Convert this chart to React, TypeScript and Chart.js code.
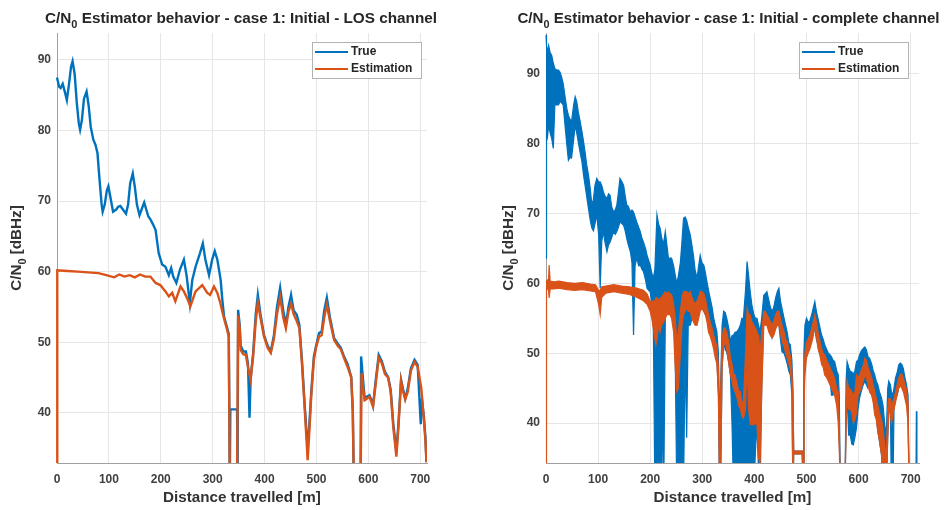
import React, { useEffect, useRef } from "react";
import { Chart, registerables } from "chart.js";

Chart.register(...registerables);

const BLUE = "#0072BD";
const ORANGE = "#D95319";
const FONT = '"Liberation Sans", Arial, Helvetica, sans-serif';

const xTicks = [0, 100, 200, 300, 400, 500, 600, 700];
const yTicks = [40, 50, 60, 70, 80, 90];

const titleLeft: [string, boolean][] = [["C/N", false], ["0", true], [" Estimator behavior - case 1: Initial - LOS channel", false]];
const titleRight: [string, boolean][] = [["C/N", false], ["0", true], [" Estimator behavior - case 1: Initial - complete channel", false]];
const yLabel: [string, boolean][] = [["C/N", false], ["0", true], [" [dBHz]", false]];
const xLabel = "Distance travelled [m]";
const legendLabels = ["True", "Estimation"];

// Left panel (LOS channel): [distance, value]
const trueLOS: [number, number][] = [
  [0, 87.5], [4, 86.2], [7, 86.0], [11, 86.6], [15, 85.5], [19, 84.3], [23, 86.5], [27, 89.0], [30, 89.8], [34, 88],
  [38, 84], [42, 81], [44.5, 80.1], [48, 81.5], [52, 84.5], [57, 85.5], [61, 83.5], [65, 80.5], [70, 78.7], [74, 78],
  [78, 76.8], [82, 73], [86, 69.5], [88, 68.5], [92, 69.5], [96, 71.5], [99, 72.1], [103, 70.5], [108, 68.5], [114, 68.8],
  [118, 69.2], [122, 69.3], [127, 68.8], [133, 68.2], [137, 69.5], [141, 72.5], [146, 73.9], [150, 72], [154, 69.5], [159, 68.0],
  [163, 68.8], [168, 69.8], [172, 68.8], [176, 67.8], [180, 67.4], [185, 66.7], [190, 65.9], [196, 62.6], [202.6, 61], [209, 60.7],
  [215.5, 59.5], [220, 60.5], [224, 59.3], [230, 58.4], [237, 60.3], [244.5, 61.7], [250, 59.3], [256, 55.5], [260.6, 58.8], [267, 60.7],
  [275.4, 62.6], [281, 64.0], [286, 61.7], [293, 59.5], [299, 61.7], [304, 62.9], [309, 61.7], [315.4, 58.8], [318.6, 56], [322, 53.6],
  [327, 52.3], [331, 51.2], [333, 30], [334, 40.5], [347, 40.5], [348, 30], [349, 54.6], [352, 52.5], [354, 49.5], [359, 48.7],
  [364, 48.7], [368, 47], [371, 39.3], [373, 44.7], [378, 48.5], [383, 54], [387, 56.7], [392, 54], [399, 51], [406, 49.5],
  [412, 48.7], [418, 51], [424, 55], [430, 57.7], [436, 54.5], [441, 52.5], [446, 55], [451, 56.7], [456, 54.5], [462, 53.9],
  [467, 52.5], [472, 47.5], [477, 41.5], [481, 37], [483, 35.2], [486, 38], [490, 43], [495, 48], [499, 49.4], [505, 51.3],
  [510, 51.5], [515, 54.5], [520, 56.3], [526, 53.5], [534, 50.6], [541, 49.8], [547, 49.2], [553, 48], [560, 46.9], [567, 45.1],
  [570, 40.5], [572, 30], [585, 30], [586, 48], [590, 44.5], [593, 42], [597, 42.3], [602, 42.5], [606, 41.8], [609, 41],
  [614, 44.5], [620, 48.2], [626, 47.3], [632, 45.8], [638, 45.1], [643, 43.3], [648, 38.5], [654, 34.5], [658, 38.5], [663, 44.7],
  [667, 43.3], [671, 42], [676, 43.5], [682, 46.3], [689, 47.5], [695, 46.8], [701, 38.4], [703, 42], [707, 39.5], [710, 36.5],
  [712, 33],
];

const estLOS: [number, number][] = [
  [0, 30], [0.5, 60.2], [20, 60.1], [40, 60], [60, 59.9], [80, 59.8], [95, 59.5], [110, 59.2], [120, 59.6], [130, 59.3],
  [140, 59.5], [150, 59.2], [160, 59.6], [170, 59.3], [180, 59.3], [190, 58.4], [199, 58.1], [209, 57.2], [215.5, 56.5], [222, 57],
  [228, 55.8], [238, 57.9], [244.5, 57.2], [251, 56.2], [257, 55.1], [267, 57.2], [280, 58.1], [289.6, 57], [295, 56.7], [302.5, 57.9],
  [309, 57], [315, 55.5], [318, 54.5], [322, 53.3], [327, 52], [331, 50.8], [333, 30], [347, 30], [349, 53.8], [352, 52],
  [354, 48.9], [359, 48.3], [364, 48.2], [368, 46.5], [373, 44.7], [378, 48], [383, 53], [387, 55.6], [392, 53.5], [399, 50.8],
  [406, 49.2], [412, 48.5], [418, 50.5], [424, 54], [430, 56.4], [436, 53.5], [441, 52], [446, 54.3], [451, 55.5], [456, 54],
  [462, 53], [467, 52], [472, 47], [477, 41], [481, 36], [483, 33.3], [486, 37], [490, 42.5], [495, 47.5], [499, 49.2],
  [505, 50.8], [510, 51], [515, 53.5], [520, 55.3], [526, 53], [534, 50.3], [541, 49.5], [547, 49], [553, 47.8], [560, 46.5],
  [567, 45], [570, 40], [572, 30], [585, 30], [587, 45.6], [590, 43.5], [593, 41.8], [597, 42], [602, 42.3], [606, 41.5],
  [609, 40.9], [614, 44], [620, 47.8], [626, 47], [632, 45.5], [638, 45], [643, 43], [648, 38], [654, 33.8], [658, 38],
  [663, 44.5], [667, 43], [671, 41.9], [676, 43], [682, 46], [689, 47.2], [695, 46.5], [702, 43.5], [707, 39], [710, 36],
  [712, 33],
];

// Right panel (complete channel): noisy bands [distance, upper, lower]
const trueBand: [number, number, number][] = [
  [0, 95.5, 63.6], [1, 94, 82], [3, 93, 81], [5, 94, 82.6], [8, 93, 81.5], [11, 92.6, 80.7], [14, 91.5, 79.3], [17, 90.7, 85.5],
  [21, 90.5, 85.5], [24, 90.5, 85.5], [27, 90.2, 86], [30, 89.5, 85.8], [33, 88.6, 85.5], [36, 87, 83], [40, 85, 79.8], [43, 84, 77.6],
  [46, 83.5, 78], [49, 83.1, 77.9], [53, 85.5, 80.5], [56, 86.7, 82.6], [59, 86, 81.5], [62, 84.5, 80.2], [66, 83, 78.5], [69, 81.7, 77.4],
  [72, 80.3, 75.5], [75, 78.8, 74], [78, 77, 72.5], [81.5, 75.5, 70.7], [85, 73.5, 69], [88, 71.2, 67.9], [91, 72, 67.5], [94, 74, 68.5],
  [97.5, 75, 69.8], [101, 74.5, 67], [104, 74.5, 59.3], [107, 74, 66], [110, 73.1, 67.4], [113, 72.5, 66], [117, 72.1, 64.5], [120, 72.8, 65.5],
  [123, 72.6, 65.9], [126, 71, 66.5], [129.5, 70.2, 67.4], [133, 70.5, 67], [136, 71.2, 67.4], [139, 73, 68], [142, 75, 68.8], [146, 74.5, 68.5],
  [149, 74, 68.3], [152, 72.5, 67.5], [155, 71.2, 66.4], [158, 71, 65.5], [162, 70.2, 64.5], [165, 70.5, 63], [168, 70.2, 52.6], [171, 69.5, 62.5],
  [174, 68.8, 63.6], [178, 68, 62.5], [181, 67.4, 62.6], [184, 66.5, 62], [187, 65.9, 61.7], [191, 65, 60.5], [194, 64, 59.3], [197, 63.3, 59],
  [200, 62.6, 58.8], [203, 61.5, 57], [206, 60.7, 54], [209, 62, 30], [211, 66, 30], [213, 69.8, 30], [216, 68.5, 30], [219, 67.9, 30],
  [222, 66.5, 30], [224, 66, 45], [226, 65.9, 30], [229, 67.4, 55], [232, 65.5, 57], [235, 63.6, 56.4], [238, 63.6, 57], [241, 63.6, 58],
  [245, 62.5, 56], [248, 61.2, 50], [251, 60, 30], [254, 61, 30], [258, 63, 30], [261, 66, 30], [264, 69.3, 30], [267, 69.5, 50],
  [270, 69, 37.9], [273, 68, 54], [277, 66.9, 54], [280, 65.5, 55], [283, 64, 56.4], [286, 62, 55.5], [290, 60.7, 55], [293, 62.5, 56.5],
  [296, 64, 57.9], [299, 63, 57], [303, 62.6, 56], [306, 61.5, 55.5], [309, 60.2, 55], [312, 59, 54.5], [315, 57.9, 54], [319, 56.5, 52.5],
  [322, 55, 51.2], [325, 54, 50], [328, 53.1, 49.3], [331, 50, 44], [333, 40, 30], [335, 45, 30], [338, 54, 48], [341, 56, 51.7],
  [344, 55.8, 50.5], [347, 55, 50.2], [351, 53.5, 48.5], [354, 51.7, 46.9], [357, 52.5, 40], [360, 52.6, 30], [363, 53, 30], [367, 53.1, 30],
  [370, 53.5, 30], [373, 54, 30], [376, 55, 30], [379, 55, 30], [383, 59, 34], [386, 63.1, 30], [389, 61, 30], [392, 58.8, 30],
  [395, 57, 30], [399, 55.5, 30], [402, 55, 36], [405, 55, 39.8], [408, 54, 33], [411, 53.1, 30], [414, 55, 45], [418, 58.3, 55],
  [421, 58.5, 55], [424, 58.8, 55], [428, 57.5, 54], [431, 56.5, 53.5], [434, 56, 52.2], [437, 56.5, 53], [441, 58, 54], [444, 58.8, 54],
  [447, 59.3, 54], [450, 57.5, 52], [453, 56.4, 50.2], [457, 55, 50], [460, 54, 49.3], [463, 53, 48.5], [466, 51.5, 47.5], [469, 51.2, 46.9],
  [472, 49, 44], [474, 45, 30], [475.5, 36, 35.6], [492, 36, 35.6], [493.5, 30, 30], [495, 50, 44], [497, 54, 48], [500, 55, 50.5],
  [503, 54.5, 51], [506, 54.5, 51], [510, 55.5, 52], [513, 56.5, 53], [516, 57.4, 53.5], [519, 56, 52], [522, 55, 51.2], [525, 54, 50],
  [529, 52.6, 49.3], [532, 52, 48.5], [535, 51.2, 47.8], [539, 50.5, 47], [542, 50, 46.5], [545, 49.8, 46.4], [548, 49.5, 44], [551, 49, 44],
  [554, 48.8, 45], [558, 47.5, 44], [561, 46.9, 43.6], [563, 44, 38], [565, 30, 30], [574, 30, 30], [576, 46, 40], [578, 48.8, 44],
  [581, 48, 38.3], [584, 47.4, 38.3], [587, 47.3, 37], [590, 47, 36.9], [593, 47.5, 38], [596, 48.8, 39.3], [599, 49, 42], [602, 49.8, 43.6],
  [605, 50.3, 44.5], [609, 50.7, 45.5], [612, 50.9, 46], [615, 50.5, 45.5], [618, 49.5, 45], [621, 49.3, 45.5], [625, 48.5, 44.5], [628, 47.5, 43.5],
  [631, 46.9, 42.1], [634, 46, 41], [637, 45.5, 38.8], [640, 44.5, 37.5], [644, 43.6, 35.5], [647, 42.5, 30], [650, 40, 30], [653, 38, 30],
  [656, 45, 38], [658, 46, 42], [661, 45.5, 43], [663, 44.5, 30], [666, 44, 30], [668, 45, 42], [671, 46.5, 43.5], [674, 47.2, 44],
  [677, 48.3, 45], [680, 48.6, 45.5], [683, 48.4, 45.5], [686, 47.8, 45], [689, 46.5, 44], [692, 45.5, 43.5], [695, 44, 42], [697, 30, 30],
  [710, 30, 30], [711, 41.7, 30], [712, 30, 30],
];

const estBand: [number, number, number][] = [
  [0, 60, 30], [1, 60.3, 59.3], [3, 60.5, 59.2], [5, 60.5, 59], [6, 62.6, 57.9], [8, 60.3, 59.2], [15, 60.2, 59.2], [25, 60.3, 59.3],
  [40, 60.1, 59.1], [55, 60, 59], [70, 60.1, 59.1], [85, 59.9, 58.9], [95, 59.8, 58.8], [101, 59, 57], [104, 59, 55.5], [107, 59.5, 58],
  [115, 59.6, 58.6], [130, 59.8, 58.8], [145, 59.6, 58.6], [160, 59.5, 58.4], [174, 59.3, 58], [187, 59, 57.5], [194, 58.5, 57], [200, 57.4, 56],
  [203, 57.4, 55], [206, 57.5, 53.5], [209, 57.5, 52], [211, 58, 51.2], [213, 58, 52], [216, 57.5, 54], [219, 57.9, 53], [222, 58, 54],
  [226, 58.5, 54.5], [229, 58.8, 55], [232, 58.5, 55.5], [235, 58.8, 55.5], [238, 58.5, 55.5], [241, 58.4, 55], [245, 57, 53], [248, 55, 48],
  [251, 52, 44.5], [254, 53, 45], [258, 56, 50], [261, 58, 54], [264, 58.8, 55.5], [267, 58.8, 56], [270, 58.8, 56.4], [273, 58.5, 56],
  [277, 58.8, 56], [280, 58, 55], [283, 57.5, 54.5], [286, 57, 54], [290, 57.5, 54], [293, 58, 55], [296, 58.8, 56], [299, 58.8, 56.4],
  [303, 58.5, 56], [306, 57.8, 55.5], [309, 56.5, 54.5], [312, 55.5, 53], [315, 54.5, 52.5], [319, 53.5, 51.5], [322, 52.5, 50.5], [325, 51.7, 49.3],
  [328, 51, 48.5], [331, 48, 44], [333, 40, 30], [335, 44, 30], [338, 52, 48], [341, 53.6, 51], [344, 53.6, 51.7], [347, 53, 50.5],
  [351, 51.5, 48.5], [354, 49.3, 46.9], [357, 48.5, 46], [360, 47, 45], [363, 46.9, 44.5], [367, 45.5, 43.5], [370, 44.5, 42.5], [373, 44.5, 42.1],
  [376, 43, 41], [379, 43, 40.7], [383, 50, 42], [386, 56.4, 49], [389, 55.5, 42], [392, 55.5, 39.8], [395, 54.5, 39.8], [399, 54, 39.8],
  [402, 53.6, 40], [405, 53, 39.8], [408, 52.5, 35], [411, 50, 34.3], [414, 53, 44], [418, 56, 54], [421, 56, 54], [424, 55.5, 54],
  [428, 55, 53], [431, 54.5, 52.5], [434, 54, 52.2], [437, 54.5, 52.5], [441, 55.5, 53.5], [444, 56, 54], [447, 56, 54], [450, 55, 53],
  [453, 54, 51.7], [457, 53, 51], [460, 52, 50], [463, 51.7, 49.3], [466, 50.5, 48.5], [469, 49.5, 47.5], [472, 47.5, 45.5], [474, 44, 30],
  [475.5, 36, 35.6], [492, 36, 35.6], [493.5, 30, 30], [495, 46, 42], [497, 50, 47], [500, 51.5, 49.3], [503, 52, 50], [506, 52.5, 50.5],
  [510, 53.5, 51.5], [513, 54.5, 52.5], [516, 55.5, 54], [519, 54.5, 52.5], [522, 53, 50.7], [525, 52, 50], [529, 50.7, 48.4], [532, 50, 48],
  [535, 49.8, 46.9], [539, 49, 46.5], [542, 48.5, 46], [545, 48, 45.5], [548, 47.5, 45], [551, 47, 44.5], [554, 46.4, 44], [558, 45, 42.5],
  [561, 44.5, 40], [563, 40, 36], [565, 30, 30], [574, 30, 30], [576, 43, 40], [578, 46, 43], [581, 45, 42], [584, 44.9, 42],
  [587, 44.5, 41.5], [590, 44, 40], [593, 44.5, 40.5], [596, 46.9, 41.5], [599, 46.5, 44], [602, 46.9, 44.5], [605, 47.5, 45], [609, 48.2, 46],
  [612, 49.3, 46.9], [615, 49, 46.5], [618, 48, 45.5], [621, 47.4, 44.5], [625, 46.5, 44], [628, 45.5, 43], [631, 44.5, 41.2], [634, 43.5, 40.5],
  [637, 42.5, 38.8], [640, 41.5, 37.5], [644, 40.5, 35.5], [647, 39, 30], [650, 37, 30], [653, 35, 30], [656, 42, 38], [658, 43.5, 41.5],
  [661, 43.5, 41.5], [663, 43, 40], [666, 43, 41], [668, 43.5, 42], [671, 44.5, 43], [674, 45.5, 44], [677, 46.4, 45], [680, 47, 45.5],
  [683, 47, 45], [686, 46.4, 44.5], [689, 45.5, 43.5], [692, 44.8, 42.5], [695, 43, 40], [697, 30, 30],
];

type Rich = [string, boolean][];

function richWidth(ctx: CanvasRenderingContext2D, parts: Rich, size: number) {
  let w = 0;
  for (const [t, sub] of parts) {
    ctx.font = `bold ${sub ? size * 0.72 : size}px ${FONT}`;
    w += ctx.measureText(t).width;
  }
  return w;
}

function drawRich(ctx: CanvasRenderingContext2D, parts: Rich, cx: number, cy: number, size: number, color: string) {
  const w = richWidth(ctx, parts, size);
  let x = cx - w / 2;
  ctx.fillStyle = color;
  ctx.textAlign = "left";
  ctx.textBaseline = "middle";
  for (const [t, sub] of parts) {
    ctx.font = `bold ${sub ? size * 0.72 : size}px ${FONT}`;
    ctx.fillText(t, x, sub ? cy + size * 0.38 : cy);
    x += ctx.measureText(t).width;
  }
}

const decorPlugin = {
  id: "decor",
  afterDraw(chart: any, _args: any, opts: any) {
    const ctx: CanvasRenderingContext2D = chart.ctx;
    const a = chart.chartArea;
    const cx = (a.left + a.right) / 2;
    const cy = (a.top + a.bottom) / 2;
    ctx.save();
    drawRich(ctx, opts.title, cx + opts.titleDx, opts.titleY, opts.titleSize, "#262626");
    drawRich(ctx, [[xLabel, false]], cx, opts.xLabelY, opts.labelSize, "#333333");
    ctx.save();
    ctx.translate(opts.yLabelX, cy);
    ctx.rotate(-Math.PI / 2);
    drawRich(ctx, yLabel, 0, 0, opts.labelSize, "#333333");
    ctx.restore();
    // legend
    const bw = 109, bh = 36;
    const bx = a.right - opts.legendGap - bw;
    const by = opts.legendTop;
    ctx.fillStyle = "#ffffff";
    ctx.fillRect(bx, by, bw, bh);
    ctx.strokeStyle = "#b3b3b3";
    ctx.lineWidth = 1;
    ctx.strokeRect(Math.round(bx) + 0.5, Math.round(by) + 0.5, bw, bh);
    const rows = [by + 10, by + 27];
    const cols = [BLUE, ORANGE];
    for (let i = 0; i < 2; i++) {
      ctx.strokeStyle = cols[i];
      ctx.lineWidth = 2;
      ctx.beginPath();
      ctx.moveTo(bx + 3, rows[i]);
      ctx.lineTo(bx + 36, rows[i]);
      ctx.stroke();
      ctx.fillStyle = "#262626";
      ctx.font = `bold 12px ${FONT}`;
      ctx.textAlign = "left";
      ctx.textBaseline = "middle";
      ctx.fillText(legendLabels[i], bx + 39, rows[i]);
    }
    ctx.restore();
  },
};

function scales(xMax: number, yMin: number, yMax: number, areaLeft: number) {
  const tickFont = { size: 12, weight: "bold" as const, family: FONT };
  return {
    x: {
      type: "linear" as const,
      min: 0,
      max: xMax,
      afterBuildTicks: (s: any) => { s.ticks = xTicks.map((v) => ({ value: v })); },
      afterFit: (s: any) => { s.height = 47; },
      grid: { color: "#e6e6e6", drawTicks: false, lineWidth: 1 },
      border: { display: true, color: "#a0a0a0", width: 1 },
      ticks: { font: tickFont, color: "#404040", padding: 9, maxRotation: 0 },
    },
    y: {
      type: "linear" as const,
      min: yMin,
      max: yMax,
      afterBuildTicks: (s: any) => { s.ticks = yTicks.map((v) => ({ value: v })); },
      afterFit: (s: any) => { s.width = areaLeft; },
      grid: { color: "#e6e6e6", drawTicks: false, lineWidth: 1 },
      border: { display: true, color: "#a0a0a0", width: 1 },
      ticks: { font: tickFont, color: "#404040", padding: 6 },
    },
  };
}

const clipArea = { left: 2, right: 0, top: 0, bottom: 0 };

function leftConfig(): any {
  return {
    type: "line",
    data: {
      datasets: [
        {
          label: legendLabels[1],
          data: estLOS.map(([x, y]) => ({ x, y })),
          borderColor: ORANGE,
          borderWidth: 2.4,
          pointRadius: 0,
          tension: 0,
          fill: false,
          clip: clipArea,
          order: 0,
        },
        {
          label: legendLabels[0],
          data: trueLOS.map(([x, y]) => ({ x, y })),
          borderColor: BLUE,
          borderWidth: 2.4,
          pointRadius: 0,
          tension: 0,
          fill: false,
          clip: clipArea,
          order: 1,
        },
      ],
    },
    options: {
      responsive: false,
      animation: false,
      devicePixelRatio: 1,
      layout: { padding: { top: 33, left: 0, right: 474 - 427, bottom: 0 } },
      scales: scales(713, 32.9, 93.8, 57),
      plugins: {
        legend: { display: false },
        tooltip: { enabled: false },
        title: { display: false },
        decor: {
          title: titleLeft, titleY: 19, titleSize: 15.3, titleDx: -1,
          xLabelY: 498, yLabelX: 17, labelSize: 15.2,
          legendGap: 6, legendTop: 42,
        },
      },
    },
    plugins: [decorPlugin],
  };
}

function rightConfig(): any {
  const mk = (label: string, rows: [number, number, number][], idx: 1 | 2, color: string, fill: any, order: number) => ({
    label,
    data: rows.map((r) => ({ x: r[0], y: r[idx] })),
    borderColor: color,
    backgroundColor: color,
    borderWidth: 1.2,
    pointRadius: 0,
    tension: 0,
    fill,
    clip: clipArea,
    order,
  });
  return {
    type: "line",
    data: {
      datasets: [
        mk(legendLabels[0], trueBand, 1, BLUE, "+1", 1),
        mk(legendLabels[0], trueBand, 2, BLUE, false, 1),
        mk(legendLabels[1], estBand, 1, ORANGE, "+1", 0),
        mk(legendLabels[1], estBand, 2, ORANGE, false, 0),
      ],
    },
    options: {
      responsive: false,
      animation: false,
      devicePixelRatio: 1,
      layout: { padding: { top: 33, left: 0, right: 474 - 445, bottom: 0 } },
      scales: scales(716, 34.3, 95.8, 72),
      plugins: {
        legend: { display: false },
        tooltip: { enabled: false },
        title: { display: false },
        filler: { propagate: false },
        decor: {
          title: titleRight, titleY: 19, titleSize: 15.1, titleDx: -4,
          xLabelY: 498, yLabelX: 35, labelSize: 15.2,
          legendGap: 11, legendTop: 42,
        },
      },
    },
    plugins: [decorPlugin],
  };
}

export default function App() {
  const leftRef = useRef<HTMLCanvasElement>(null);
  const rightRef = useRef<HTMLCanvasElement>(null);
  useEffect(() => {
    const c1 = new Chart(leftRef.current as HTMLCanvasElement, leftConfig());
    const c2 = new Chart(rightRef.current as HTMLCanvasElement, rightConfig());
    return () => {
      c1.destroy();
      c2.destroy();
    };
  }, []);
  return (
    <div style={{ position: "absolute", left: 0, top: 0, width: 948, height: 510, background: "#ffffff" }}>
      <canvas ref={leftRef} width={474} height={510} style={{ position: "absolute", left: 0, top: 0, width: 474, height: 510 }} />
      <canvas ref={rightRef} width={474} height={510} style={{ position: "absolute", left: 474, top: 0, width: 474, height: 510 }} />
    </div>
  );
}
